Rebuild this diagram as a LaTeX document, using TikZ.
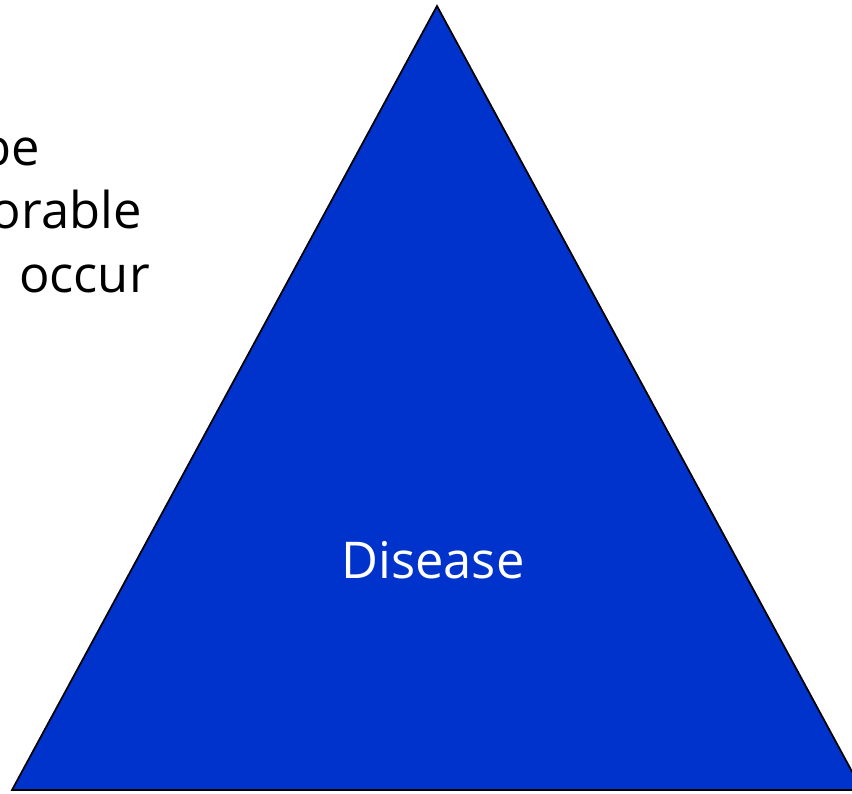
\documentclass[tikz,border=0pt]{standalone}
\usepackage{fontspec}
\setmainfont{Open Sans}
\definecolor{diseaseblue}{HTML}{0033CC}
\begin{document}
\begin{tikzpicture}[
  x=0.75pt,
  y=-0.75pt,
  line join=miter,
  txt/.style={font=\fontsize{38}{42}\selectfont, inner sep=0pt}
]
  \useasboundingbox (0,0) rectangle (852,793);

  % Ecken des Dreiecks
  \coordinate (T) at (437,6);
  \coordinate (L) at (12,790);
  \coordinate (R) at (862,790);

  % Dreieck
  \fill[diseaseblue] (T)--(L)--(R)--cycle;
  \draw[line width=1.3pt] (T)--(L)--(R)--cycle;

  % Beschriftung
  \node[txt, text=white, anchor=base] (disease) at (433,578) {Disease};

  % Text links (abgeschnitten)
  \node[txt, anchor=base east] (be) at (40,165) {be};
  \node[txt, anchor=base east] (orable) at (142,228) {orable};
  \node[txt, anchor=base east] (occur) at (150,292) {occur};
\end{tikzpicture}
\end{document}
